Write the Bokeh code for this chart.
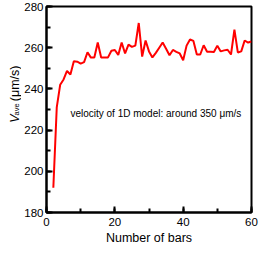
import math
from bokeh.plotting import figure
from bokeh.layouts import row
from bokeh.models import Label, SingleIntervalTicker, Range1d
from bokeh.embed import file_html
from bokeh.resources import INLINE

# data
n_bars = list(range(2, 61))
v_ave = [192, 231, 242, 244.6, 248.7, 247, 253.4, 253.2, 252.3, 253,
         257.8, 255.2, 255.2, 262.5, 255.2, 255.2, 255.3, 258.5, 258.9, 256.5,
         262.5, 257.2, 261.5, 260.4, 261, 272, 255.7, 263.5, 258.2, 255.3,
         257.5, 260, 262.5, 259.5, 256.3, 258.9, 258, 257.2, 253.9, 261,
         264, 263.3, 256.7, 256.7, 261.2, 258, 258, 257.9, 261, 258.2,
         258.7, 259, 256.7, 268.8, 257.7, 258.2, 263.5, 262.5, 263]
x_label = "Number of bars"
y_label_main = "V"
y_label_sub = "ave"
y_label_unit = "(μm/s)"
note = "velocity of 1D model: around 350 μm/s"

FONT = "Liberation Sans"
H = 248
TOP, BOTTOM = 6, 36
LW = 21  # width of the y-label strip

p = figure(width=259 - LW, height=H, output_backend="svg", toolbar_location=None,
           x_range=Range1d(0, 60), y_range=Range1d(180, 280),
           min_border_left=18, min_border_right=8, min_border_top=TOP,
           min_border_bottom=BOTTOM)
p.grid.visible = False
p.background_fill_color = "white"
p.border_fill_color = "white"
p.outline_line_color = "black"
p.outline_line_width = 2
p.outline_line_alpha = 1

p.line(n_bars, v_ave, line_color="#ff0000", line_width=2)

p.xaxis.ticker = SingleIntervalTicker(interval=20, num_minor_ticks=2)
p.yaxis.ticker = SingleIntervalTicker(interval=20, num_minor_ticks=2)
for ax in (p.xaxis, p.yaxis):
    ax.axis_line_width = 2
    ax.axis_line_color = "black"
    ax.major_tick_in = 6
    ax.major_tick_out = 0
    ax.minor_tick_in = 4
    ax.minor_tick_out = 0
    ax.major_tick_line_width = 2
    ax.minor_tick_line_width = 2
    ax.major_tick_line_color = "black"
    ax.minor_tick_line_color = "black"
    ax.major_label_text_font = FONT
    ax.major_label_text_font_size = "11.5px"
    ax.major_label_text_color = "black"
p.yaxis.major_label_standoff = 3
p.xaxis.major_label_standoff = 5
p.xaxis.axis_label = x_label
p.xaxis.axis_label_text_font = FONT
p.xaxis.axis_label_text_font_size = "12.5px"
p.xaxis.axis_label_text_font_style = "normal"
p.xaxis.axis_label_text_color = "black"
p.xaxis.axis_label_standoff = 2

p.add_layout(Label(x=7.0, y=228, text=note, text_font=FONT, text_font_size="10px",
                   text_align="left", text_baseline="alphabetic", text_color="black"))

# strip holding the y-axis label (pixel coordinates, origin bottom-left)
s = figure(width=LW, height=H, output_backend="svg", toolbar_location=None,
           x_range=Range1d(0, LW), y_range=Range1d(0, H),
           min_border_left=0, min_border_right=0, min_border_top=0,
           min_border_bottom=0)
s.axis.visible = False
s.grid.visible = False
s.outline_line_color = None
s.background_fill_color = "white"
s.border_fill_color = "white"

ang = math.pi / 2
center = BOTTOM + (H - TOP - BOTTOM) / 2
y0 = center - 31
s.add_layout(Label(x=14, y=y0, text=y_label_main, angle=ang,
                   text_font=FONT, text_font_size="12.5px", text_font_style="italic",
                   text_align="left", text_baseline="alphabetic", text_color="black"))
s.add_layout(Label(x=16.3, y=y0 + 8.8, text=y_label_sub, angle=ang,
                   text_font=FONT, text_font_size="7.5px",
                   text_align="left", text_baseline="alphabetic", text_color="black"))
s.add_layout(Label(x=14, y=y0 + 26, text=y_label_unit, angle=ang,
                   text_font=FONT, text_font_size="12.5px",
                   text_align="left", text_baseline="alphabetic", text_color="black"))

layout = row(s, p, spacing=0)
open("out.html", "w").write(file_html(layout, INLINE))
